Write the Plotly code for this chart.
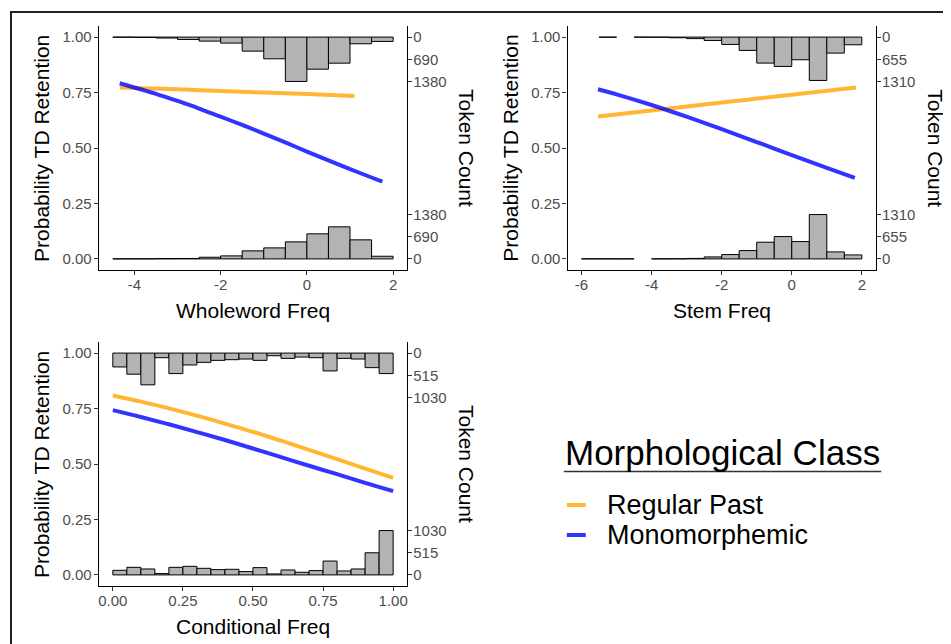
import plotly.graph_objects as go

# The page body has an 8px margin: the figure is drawn 8px in from the window corner.
W, H = 951, 644
PAGE_OFF = 8
FW, FH = W - PAGE_OFF, H - PAGE_OFF

# ------------------------- data -------------------------
prob_ticks = [0.0, 0.25, 0.5, 0.75, 1.0]
prob_labels = ["0.00", "0.25", "0.50", "0.75", "1.00"]

# Wholeword Freq panel
wf_bin_left = [-4.5, -4.0, -3.5, -3.0, -2.5, -2.0, -1.5, -1.0, -0.5, 0.0, 0.5, 1.0, 1.5]
wf_bin_width = 0.5
wf_retained_counts = [3, 10, 30, 73, 125, 187, 437, 676, 1380, 998, 811, 208, 135]
wf_deleted_counts = [2, 4, 10, 14, 52, 94, 250, 343, 530, 780, 998, 593, 83]
wf_count_ticks = [0, 690, 1380]
wf_x_ticks = [-4, -2, 0, 2]
wf_x_labels = ["-4", "-2", "0", "2"]
wf_regular_x = [-4.34, -3.0, -2.0, -1.0, 0.0, 1.1]
wf_regular_p = [0.773, 0.765, 0.757, 0.750, 0.743, 0.734]
wf_mono_x = [-4.34, -3.5, -3.0, -2.5, -2.0, -1.5, -1.0, -0.5, 0.0, 0.5, 1.0, 1.5, 1.75]
wf_mono_p = [0.792, 0.744, 0.712, 0.678, 0.641, 0.604, 0.565, 0.525, 0.484, 0.444, 0.405, 0.367, 0.348]

# Stem Freq panel
sf_bin_left = [-6.0, -5.5, -5.0, -4.5, -4.0, -3.5, -3.0, -2.5, -2.0, -1.5, -1.0, -0.5, 0.0, 0.5, 1.0, 1.5]
sf_bin_width = 0.5
sf_retained_counts = [None, 3, None, 2, 5, 20, 45, 100, 217, 394, 768, 867, 670, 1280, 473, 227]
sf_deleted_counts = [2, 2, 2, None, 2, 5, 15, 59, 128, 246, 493, 660, 512, 1310, 207, 118]
sf_count_ticks = [0, 655, 1310]
sf_x_ticks = [-6, -4, -2, 0, 2]
sf_x_labels = ["-6", "-4", "-2", "0", "2"]
sf_regular_x = [-5.53, -4.0, -2.0, 0.0, 1.83]
sf_regular_p = [0.642, 0.669, 0.705, 0.740, 0.773]
sf_mono_x = [-5.53, -5.0, -4.0, -3.0, -2.0, -1.0, 0.0, 1.0, 1.8]
sf_mono_p = [0.765, 0.742, 0.694, 0.641, 0.585, 0.527, 0.468, 0.410, 0.365]

# Conditional Freq panel
cf_bin_left = [0.00, 0.05, 0.10, 0.15, 0.20, 0.25, 0.30, 0.35, 0.40, 0.45,
               0.50, 0.55, 0.60, 0.65, 0.70, 0.75, 0.80, 0.85, 0.90, 0.95]
cf_bin_width = 0.05
cf_retained_counts = [322, 490, 737, 107, 476, 276, 215, 169, 153, 138,
                      169, 61, 123, 92, 107, 414, 123, 138, 338, 476]
cf_deleted_counts = [107, 176, 138, 31, 176, 199, 153, 123, 130, 77,
                     169, 23, 115, 61, 100, 322, 92, 138, 514, 1030]
cf_count_ticks = [0, 515, 1030]
cf_x_ticks = [0.0, 0.25, 0.5, 0.75, 1.0]
cf_x_labels = ["0.00", "0.25", "0.50", "0.75", "1.00"]
cf_regular_x = [0.0, 0.1, 0.2, 0.3, 0.4, 0.5, 0.6, 0.7, 0.8, 0.9, 1.0]
cf_regular_p = [0.809, 0.781, 0.751, 0.718, 0.682, 0.645, 0.605, 0.564, 0.522, 0.479, 0.437]
cf_mono_x = [0.0, 0.1, 0.2, 0.3, 0.4, 0.5, 0.6, 0.7, 0.8, 0.9, 1.0]
cf_mono_p = [0.743, 0.712, 0.679, 0.644, 0.608, 0.570, 0.531, 0.492, 0.454, 0.415, 0.378]

series_names = ["Regular Past", "Monomorphemic"]
legend_title = "Morphological Class"
x_titles = ["Wholeword Freq", "Stem Freq", "Conditional Freq"]

# ------------------------- styling -------------------------
FONT = "Liberation Sans, Arial, sans-serif"
ORANGE = "rgba(255,165,0,0.8)"
BLUE = "rgba(0,0,255,0.8)"
BAR_FILL = "#B3B3B3"
TICK_COL = "#4D4D4D"
HIST_SPAN = 0.2  # fraction of probability axis used by tallest histogram bar


def fx(px):
    return (px - PAGE_OFF) / FW


def fy(py):
    return 1 - (py - PAGE_OFF) / FH


fig = go.Figure()

panels = [
    dict(xa="x", ya="y", ya2="y2", left=98, top=26,
         bins=wf_bin_left, bw=wf_bin_width, ret=wf_retained_counts, dele=wf_deleted_counts,
         cticks=wf_count_ticks, xt=wf_x_ticks, xl=wf_x_labels, xr=[-4.825, 2.325],
         rx=wf_regular_x, rp=wf_regular_p, mx=wf_mono_x, mp=wf_mono_p, title=x_titles[0]),
    dict(xa="x2", ya="y3", ya2="y4", left=567.7, top=26,
         bins=sf_bin_left, bw=sf_bin_width, ret=sf_retained_counts, dele=sf_deleted_counts,
         cticks=sf_count_ticks, xt=sf_x_ticks, xl=sf_x_labels, xr=[-6.4, 2.4],
         rx=sf_regular_x, rp=sf_regular_p, mx=sf_mono_x, mp=sf_mono_p, title=x_titles[1]),
    dict(xa="x3", ya="y5", ya2="y6", left=98, top=342,
         bins=cf_bin_left, bw=cf_bin_width, ret=cf_retained_counts, dele=cf_deleted_counts,
         cticks=cf_count_ticks, xt=cf_x_ticks, xl=cf_x_labels, xr=[-0.05, 1.05],
         rx=cf_regular_x, rp=cf_regular_p, mx=cf_mono_x, mp=cf_mono_p, title=x_titles[2]),
]

PW, PH = 309, 244
annotations = []
shapes = []
layout_axes = {}

for i, p in enumerate(panels):
    cmax = p["cticks"][-1]
    scale = HIST_SPAN / cmax
    bar_common = dict(
        width=p["bw"], offset=0,
        marker=dict(color=BAR_FILL, line=dict(color="black", width=1)),
        xaxis=p["xa"], yaxis=p["ya"], showlegend=False, hoverinfo="skip",
    )
    # bottom histogram (rising from 0)
    fig.add_trace(go.Bar(
        x=p["bins"], y=[None if c is None else c * scale for c in p["dele"]],
        base=0, **bar_common))
    # top histogram (hanging from 1)
    fig.add_trace(go.Bar(
        x=p["bins"], y=[None if c is None else -c * scale for c in p["ret"]],
        base=1, **bar_common))
    # fitted curves
    fig.add_trace(go.Scatter(
        x=p["rx"], y=p["rp"], mode="lines", line=dict(color=ORANGE, width=4, shape="spline"),
        name=series_names[0], showlegend=False,
        xaxis=p["xa"], yaxis=p["ya2"]))
    fig.add_trace(go.Scatter(
        x=p["mx"], y=p["mp"], mode="lines", line=dict(color=BLUE, width=4, shape="spline"),
        name=series_names[1], showlegend=False,
        xaxis=p["xa"], yaxis=p["ya2"]))

    xkey = "xaxis" + ("" if p["xa"] == "x" else p["xa"][1:])
    ykey = "yaxis" + ("" if p["ya"] == "y" else p["ya"][1:])
    y2key = "yaxis" + p["ya2"][1:]
    left, top = p["left"], p["top"]
    axis_common = dict(
        showline=True, linecolor="black", linewidth=1.2, ticks="outside", ticklen=4,
        tickwidth=1.1, tickcolor="#333333", showgrid=False, zeroline=False,
        tickfont=dict(family=FONT, size=15, color=TICK_COL), fixedrange=True,
    )
    layout_axes[xkey] = dict(
        domain=[fx(left), fx(left + PW)], anchor=p["ya"], range=p["xr"],
        tickmode="array", tickvals=p["xt"], ticktext=p["xl"], ticklabelstandoff=-3,
        **axis_common)
    layout_axes[ykey] = dict(
        domain=[fy(top + PH), fy(top)], anchor=p["xa"], range=[-0.05, 1.05],
        tickmode="array", tickvals=prob_ticks, ticktext=prob_labels, ticklabelstandoff=-1,
        **axis_common)
    ct = p["cticks"]
    rvals = [c * scale for c in ct] + [1 - c * scale for c in ct]
    rtext = [str(c) for c in ct] + [str(c) for c in ct]
    layout_axes[y2key] = dict(
        overlaying=p["ya"], side="right", anchor=p["xa"], range=[-0.05, 1.05],
        tickmode="array", tickvals=rvals, ticktext=rtext, ticklabelstandoff=-2,
        **axis_common)

    # axis titles
    annotations.append(dict(
        text=p["title"], x=fx(left + PW / 2), y=fy(top + PH + 40), xref="paper", yref="paper",
        showarrow=False, font=dict(family=FONT, size=21, color="black"),
        xanchor="center", yanchor="middle"))
    annotations.append(dict(
        text="Probability TD Retention", x=fx(left - 57), y=fy(top + PH / 2),
        xref="paper", yref="paper", showarrow=False, textangle=-90,
        font=dict(family=FONT, size=21, color="black"), xanchor="center", yanchor="middle"))
    annotations.append(dict(
        text="Token Count", x=fx(left + PW + 59), y=fy(top + PH / 2),
        xref="paper", yref="paper", showarrow=False, textangle=90,
        font=dict(family=FONT, size=21, color="black"), xanchor="center", yanchor="middle"))

# ---- legend (title, underline, keys, labels) ----
annotations.append(dict(
    text=legend_title, x=fx(723), y=fy(452), xref="paper", yref="paper", showarrow=False,
    font=dict(family=FONT, size=35, color="black"), xanchor="center", yanchor="middle"))
shapes.append(dict(type="line", xref="paper", yref="paper",
                   x0=fx(564), x1=fx(882), y0=fy(471.5), y1=fy(471.5),
                   line=dict(color="#333333", width=1.5)))
for name, col, ypx in [(series_names[0], ORANGE, 505), (series_names[1], BLUE, 535)]:
    shapes.append(dict(type="line", xref="paper", yref="paper",
                       x0=fx(567), x1=fx(586), y0=fy(ypx), y1=fy(ypx),
                       line=dict(color=col, width=4)))
    annotations.append(dict(
        text=name, x=fx(606), y=fy(ypx), xref="paper", yref="paper", showarrow=False,
        font=dict(family=FONT, size=27, color="black"), xanchor="left", yanchor="middle",
        borderpad=0))

# outer frame
shapes.append(dict(type="rect", xref="paper", yref="paper",
                   x0=fx(10), x1=fx(W + 20), y0=fy(H + 20), y1=fy(12),
                   line=dict(color="#222222", width=2)))

fig.update_layout(
    width=FW, height=FH, margin=dict(l=0, r=0, t=0, b=0),
    paper_bgcolor="white", plot_bgcolor="rgba(0,0,0,0)",
    font=dict(family=FONT, color="black"),
    barmode="overlay",
    showlegend=False,
    annotations=annotations, shapes=shapes,
    **layout_axes,
)

fig.write_html("out.html")
